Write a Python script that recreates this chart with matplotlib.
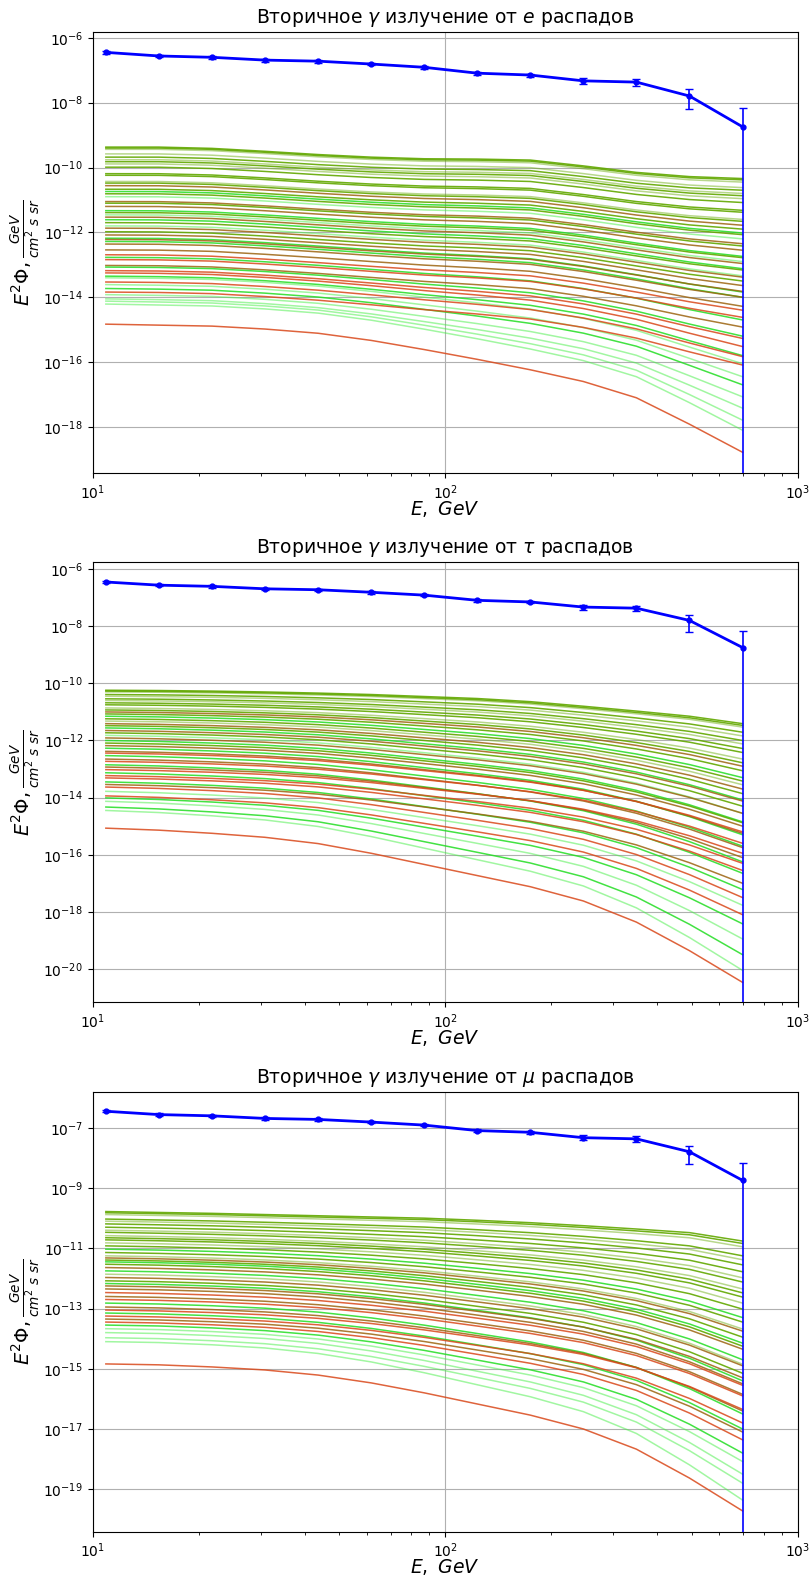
import numpy as np
import matplotlib.pyplot as plt

# Energy bins (GeV) shared by the measured points and the model spectra
energy = [10.9, 15.4, 21.8, 30.8, 43.6, 61.7, 87.2, 123.3, 174.4, 246.6, 348.7, 493.2, 697.5]

# Measured E^2 flux with symmetric errors
flux = [3.55e-7, 2.75e-7, 2.5e-7, 2.05e-7, 1.9e-7, 1.55e-7, 1.23e-7,
        8.1e-8, 7.1e-8, 4.7e-8, 4.3e-8, 1.6e-8, 1.8e-9]
flux_err = [3.0e-8, 2.8e-8, 2.5e-8, 2.0e-8, 1.8e-8, 1.5e-8, 1.2e-8,
            9e-9, 8e-9, 9e-9, 1.0e-8, 9.5e-9, 4.9e-9]

# Spectral shapes (log10 drop from first bin) of the hardest and softest model in each channel
shape_hard_e = [0, 0, -0.04, -0.13, -0.23, -0.31, -0.36, -0.37, -0.40, -0.58, -0.78, -0.91, -0.97]
shape_soft_e = [0, -0.03, -0.06, -0.15, -0.28, -0.50, -0.78, -1.08, -1.40, -1.76, -2.26, -3.07, -3.93]
shape_hard_t = [0, -0.01, -0.03, -0.06, -0.10, -0.15, -0.22, -0.29, -0.40, -0.56, -0.73, -0.91, -1.17]
shape_soft_t = [0, -0.07, -0.18, -0.32, -0.54, -0.88, -1.27, -1.66, -2.05, -2.55, -3.29, -4.29, -5.40]
shape_hard_m = [0, -0.03, -0.06, -0.10, -0.14, -0.18, -0.22, -0.29, -0.37, -0.47, -0.58, -0.70, -0.98]
shape_soft_m = [0, -0.03, -0.10, -0.20, -0.37, -0.63, -0.96, -1.33, -1.70, -2.16, -2.83, -3.79, -4.88]

# log10 E^2 flux of every model at the first and at the last bin, and its colour class
start_e = [-9.37, -9.40, -9.44, -9.58, -9.68, -9.76, -9.82, -9.89, -9.99, -10.19,
           -10.24, -10.43, -10.48, -10.56, -10.67, -10.74, -10.81, -10.90, -11.05, -11.10,
           -11.20, -11.33, -11.39, -11.46, -11.53, -11.61, -11.70, -11.80, -11.87, -11.98,
           -12.08, -12.18, -12.22, -12.28, -12.36, -12.54, -12.69, -12.77, -12.84, -13.02,
           -13.07, -13.18, -13.25, -13.35, -13.40, -13.53, -13.61, -13.73, -13.84, -13.92,
           -14.05, -14.12, -14.21, -14.83]
end_e = [-10.34, -10.38, -10.45, -10.62, -10.70, -10.80, -10.87, -10.96, -11.08, -11.32,
         -11.38, -11.60, -11.66, -11.78, -11.90, -12.02, -12.07, -12.20, -12.35, -12.42,
         -12.55, -12.74, -12.78, -12.90, -12.96, -13.12, -13.16, -13.34, -13.38, -13.50,
         -13.64, -13.84, -13.82, -14.00, -14.00, -14.28, -14.40, -14.70, -14.62, -14.92,
         -15.20, -15.27, -15.52, -15.80, -16.05, -15.83, -16.45, -16.70, -16.09, -17.07,
         -17.42, -17.79, -18.10, -18.78]
kind_e = "ooOOoOoOoooOobogoGbobgoGbgoGbobgbgbbrgrbgrrgGrGgrGGGGr"

start_t = [-10.24, -10.27, -10.30, -10.39, -10.45, -10.54, -10.60, -10.68, -10.75, -10.86,
           -10.93, -11.00, -11.07, -11.15, -11.24, -11.32, -11.41, -11.48, -11.56, -11.65,
           -11.73, -11.82, -11.91, -12.00, -12.09, -12.18, -12.27, -12.38, -12.44, -12.53,
           -12.65, -12.73, -12.85, -12.93, -13.02, -13.13, -13.23, -13.31, -13.45, -13.54,
           -13.63, -13.78, -13.94, -14.01, -14.13, -14.33, -14.45, -15.07]
end_t = [-11.41, -11.47, -11.53, -11.71, -11.84, -12.00, -12.12, -12.28, -12.42, -12.65,
         -12.78, -12.90, -13.06, -13.30, -13.42, -13.55, -13.70, -13.86, -14.08, -14.12,
         -14.30, -14.55, -14.55, -14.85, -14.88, -15.00, -15.30, -15.25, -15.20, -15.70,
         -15.75, -15.60, -16.25, -16.10, -15.95, -16.65, -16.30, -16.55, -17.22, -17.00,
         -17.50, -17.77, -18.10, -18.42, -18.95, -19.50, -20.05, -20.47]
kind_t = "ooOoOoOooO" "obogoObogb" "oGbgobgbrg" "brgbrgrrgb" "rGrgGgGr"

start_m = [-9.78, -9.82, -9.88, -10.03, -10.10, -10.19, -10.30, -10.40, -10.47, -10.58,
           -10.65, -10.72, -10.82, -10.92, -11.03, -11.14, -11.25, -11.32, -11.39, -11.45,
           -11.53, -11.64, -11.75, -11.86, -11.97, -12.08, -12.17, -12.25, -12.35, -12.47,
           -12.60, -12.70, -12.82, -12.95, -13.05, -13.15, -13.25, -13.35, -13.45, -13.55,
           -13.67, -13.80, -13.97, -14.10, -14.84]
end_m = [-10.76, -10.84, -10.95, -11.25, -11.38, -11.55, -11.78, -11.98, -12.12, -12.35,
         -12.48, -12.62, -12.82, -13.02, -13.30, -13.45, -13.68, -13.75, -13.95, -14.15,
         -14.25, -14.35, -14.70, -14.85, -14.90, -15.15, -15.40, -15.30, -15.50, -15.55,
         -15.85, -15.90, -16.50, -16.40, -16.35, -17.00, -16.80, -17.10, -17.36, -17.80,
         -18.08, -18.50, -18.80, -19.36, -19.72]
kind_m = "ooOoOooOoO" "ooOogoObog" "obgObogbbr" "brgbrgrbrg" "GGGGr"

palette = {
    'o': ('#62a800', 0.9),
    'O': ('#62a800', 0.45),
    'g': ('#22dd22', 0.85),
    'G': ('#44ee44', 0.5),
    'b': ('#9c6410', 0.85),
    'r': ('#d9481a', 0.85),
}

panels = [
    ('e', shape_hard_e, shape_soft_e, start_e, end_e, kind_e, (10**-19.43, 10**-5.81)),
    (r'\tau', shape_hard_t, shape_soft_t, start_t, end_t, kind_t, (10**-21.17, 10**-5.74)),
    (r'\mu', shape_hard_m, shape_soft_m, start_m, end_m, kind_m, (10**-20.41, 10**-5.80)),
]
boxes = [[0.1144, 0.7006, 0.8704, 0.2794],
         [0.1144, 0.3660, 0.8704, 0.2787],
         [0.1144, 0.0312, 0.8704, 0.2783]]

fig = plt.figure(figsize=(8.1, 15.81), dpi=100)

for (particle, hard, soft, starts, ends, kinds, ylim), box in zip(panels, boxes):
    assert len(starts) == len(ends) == len(kinds)
    ax = fig.add_axes(box)
    hard = np.array(hard)
    soft = np.array(soft)
    for s, e, k in zip(starts, ends, kinds):
        # blend the two shapes so that the curve drops from s to e
        w = ((s - e) + hard[-1]) / (hard[-1] - soft[-1])
        logy = s + (1 - w) * hard + w * soft
        col, a = palette[k]
        ax.plot(energy, 10**logy, color=col, alpha=a, lw=1.1)
    ax.errorbar(energy, flux, yerr=flux_err, fmt='o-', color='blue', lw=2,
                ms=3.5, elinewidth=1.2, capsize=3, zorder=5)
    ax.set_xscale('log')
    ax.set_yscale('log')
    ax.set_xlim(10, 1000)
    ax.set_ylim(*ylim)
    ax.grid(True)
    ax.set_title(r'Вторичное $\gamma$ излучение от $%s$ распадов' % particle, fontsize=13.5)
    ax.set_xlabel(r'$E,\ GeV$', fontsize=13.5, labelpad=-2)
    ax.set_ylabel(r'$E^2\Phi, \frac{GeV}{cm^2\ s\ sr}$', fontsize=14, labelpad=1)

fig.savefig('out.png', dpi=100)
